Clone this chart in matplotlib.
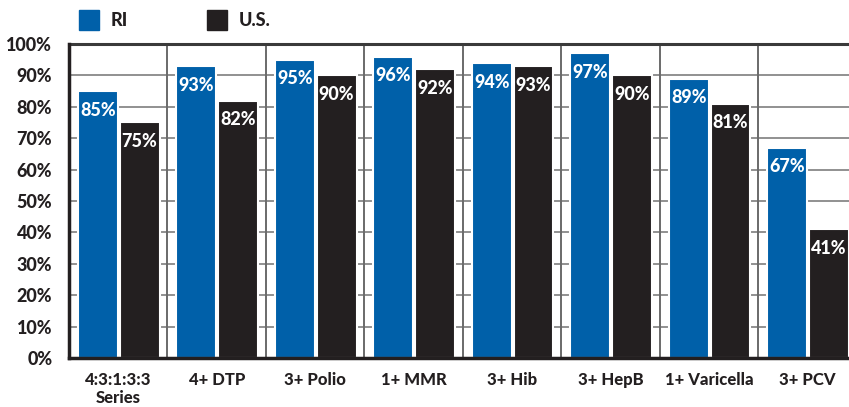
import matplotlib.pyplot as plt
import numpy as np

categories = ['4:3:1:3:3\nSeries', '4+ DTP', '3+ Polio', '1+ MMR', '3+ Hib', '3+ HepB', '1+ Varicella', '3+ PCV']
ri_values = [85, 93, 95, 96, 94, 97, 89, 67]
us_values = [75, 82, 90, 92, 93, 90, 81, 41]
series_names = ['RI', 'U.S.']
colors = ['#0060a9', '#231f20']

plt.rcParams['font.family'] = ['Lato', 'DejaVu Sans']

fig = plt.figure(figsize=(8.49, 4.07), dpi=100)
ax = fig.add_axes([69 / 849, 1 - 358 / 407, 780 / 849, 314 / 407])

x = np.arange(len(categories))
w = 0.405
for vals, off, c in [(ri_values, -0.207, colors[0]), (us_values, 0.217, colors[1])]:
    bars = ax.bar(x + off, vals, width=w, color=c, edgecolor='white', linewidth=1.5, zorder=2)
    for b, v in zip(bars, vals):
        ax.text(b.get_x() + b.get_width() / 2, v - 3.4, f'{v}%', ha='center', va='top',
                color='white', fontsize=13, fontweight='black', zorder=4)

# grid: horizontal every 10%, vertical at category boundaries
for yv in range(10, 100, 10):
    ax.axhline(yv, color='#909090', linewidth=1.4, zorder=1)
for xv in np.arange(0.5, len(categories) - 0.5, 1):
    ax.axvline(xv, color='#6a6a6a', linewidth=1.4, zorder=1)

ax.set_xlim(-0.5, 7.42)
ax.set_ylim(0, 100)
ax.set_yticks(range(0, 101, 10))
ax.set_yticklabels([f'{v}%' for v in range(0, 101, 10)], fontsize=13, fontweight='black', color='#231f20')
ax.set_xticks(x)
ax.set_xticklabels(categories, fontsize=12, fontweight='black', color='#231f20', linespacing=1.2)
ax.tick_params(axis='both', length=0)
ax.tick_params(axis='y', pad=12)
ax.tick_params(axis='x', pad=10)

for s in ['left', 'bottom']:
    ax.spines[s].set_linewidth(2.5)
    ax.spines[s].set_color('#231f20')
    ax.spines[s].set_zorder(3)
ax.spines['top'].set_linewidth(2.2)
ax.spines['top'].set_color('#3a3a3a')
ax.spines['right'].set_visible(False)

# legend
for i, (name, c) in enumerate(zip(series_names, colors)):
    lx = (79 + 128 * i) / 849
    fig.patches.append(plt.Rectangle((lx, 1 - 30 / 407), 20 / 849, 20 / 407,
                                     transform=fig.transFigure, color=c, figure=fig))
    fig.text(lx + 32 / 849, 1 - 20 / 407, name, ha='left', va='center',
             fontsize=13, fontweight='black', color='#231f20')

fig.savefig('out.png', dpi=100)
